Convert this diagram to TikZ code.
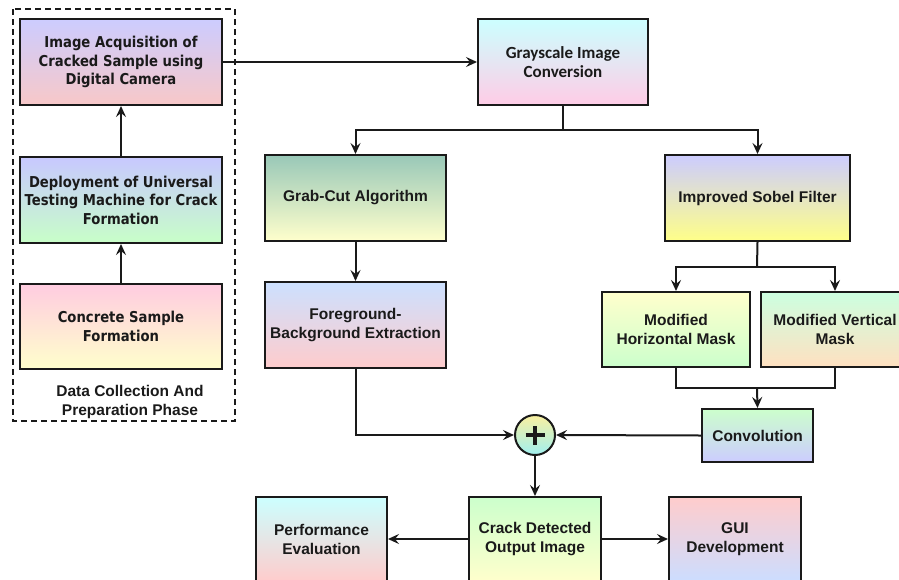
\documentclass[tikz,border=0pt]{standalone}
\usepackage{fontspec}
\setmainfont{Liberation Sans}
\newfontfamily\dvfont[FakeStretch=0.88]{DejaVu Sans}
\newfontfamily\carlfont{Carlito}
\usetikzlibrary{arrows.meta}
\definecolor{ink}{HTML}{1A1A1A}
\tikzset{
  box/.style={draw=ink, line width=2pt, rectangle, inner sep=2pt, align=center,
    text=ink, font=\fontsize{15.5}{19}\selectfont\bfseries},
  leftbox/.style={box, font=\dvfont\fontsize{15}{18.5}\selectfont\bfseries},
  conn/.style={draw=ink, line width=2pt},
  arr/.style={conn, -{Stealth[length=11pt,width=10pt,inset=4pt]}},
}
\begin{document}
\begin{tikzpicture}[x=1pt,y=-1pt]
\useasboundingbox (0,0) rectangle (899,579);
% left phase
\draw[ink, line width=2pt, dash pattern=on 6pt off 4pt] (13,9) rectangle (235,421);
\node[leftbox, minimum width=202pt, minimum height=86pt, top color={rgb,255:red,204;green,204;blue,255}, bottom color={rgb,255:red,248;green,200;blue,200}] (acq) at (121,62) {Image Acquisition of\\Cracked Sample using\\Digital Camera};
\node[leftbox, minimum width=202pt, minimum height=86pt, top color={rgb,255:red,200;green,200;blue,255}, bottom color={rgb,255:red,200;green,255;blue,200}] (dep) at (121,200) {Deployment of Universal\\Testing Machine for Crack\\Formation};
\node[leftbox, minimum width=202pt, minimum height=85pt, top color={rgb,255:red,255;green,204;blue,224}, bottom color={rgb,255:red,255;green,255;blue,204}] (conc) at (121,326.5) {Concrete Sample\\Formation};
\node[align=center, text=ink, font=\fontsize{15.5}{19}\selectfont\bfseries] (phase) at (130,402) {Data Collection And\\Preparation Phase};
% right part
\node[box, minimum width=170pt, minimum height=86pt, top color={rgb,255:red,204;green,255;blue,255}, bottom color={rgb,255:red,255;green,204;blue,230}, font=\carlfont\fontsize{17}{19}\selectfont\bfseries] (gray) at (563,62) {Grayscale Image\\Conversion};
\node[box, minimum width=181pt, minimum height=86pt, top color={rgb,255:red,153;green,200;blue,184}, bottom color={rgb,255:red,255;green,255;blue,204}] (grab) at (355.5,198) {Grab-Cut Algorithm};
\node[box, minimum width=185pt, minimum height=86pt, top color={rgb,255:red,204;green,204;blue,255}, bottom color={rgb,255:red,255;green,255;blue,136}] (sobel) at (757.5,198) {Improved Sobel Filter};
\node[box, minimum width=181pt, minimum height=86pt, top color={rgb,255:red,204;green,224;blue,255}, bottom color={rgb,255:red,255;green,204;blue,204}] (fg) at (355.5,325) {Foreground-\\Background Extraction};
\node[box, minimum width=148pt, minimum height=75pt, top color={rgb,255:red,255;green,255;blue,204}, bottom color={rgb,255:red,204;green,255;blue,204}] (modh) at (676,329.5) {Modified\\Horizontal Mask};
\node[box, minimum width=148pt, minimum height=75pt, top color={rgb,255:red,204;green,255;blue,224}, bottom color={rgb,255:red,255;green,224;blue,192}] (modv) at (835,329.5) {Modified Vertical\\Mask};
\node[box, minimum width=111pt, minimum height=53pt, top color={rgb,255:red,204;green,255;blue,204}, bottom color={rgb,255:red,204;green,204;blue,255}] (conv) at (757.5,435.5) {Convolution};
\node[draw=ink, line width=2pt, circle, minimum size=40pt, inner sep=0pt, top color={rgb,255:red,250;green,240;blue,160}, bottom color={rgb,255:red,160;green,240;blue,240}] (plus) at (535,435) {};
\draw[ink, line width=4pt] ([xshift=-9.5pt]plus.center) -- ([xshift=9.5pt]plus.center);
\draw[ink, line width=4pt] ([yshift=-9.5pt]plus.center) -- ([yshift=9.5pt]plus.center);
\node[box, minimum width=132pt, minimum height=84pt, top color={rgb,255:red,204;green,255;blue,204}, bottom color={rgb,255:red,255;green,255;blue,204}] (crack) at (535,539) {Crack Detected\\Output Image};
\node[box, minimum width=131pt, minimum height=84pt, top color={rgb,255:red,204;green,255;blue,255}, bottom color={rgb,255:red,255;green,204;blue,204}] (perf) at (321.5,539) {Performance\\Evaluation};
\node[box, minimum width=132pt, minimum height=84pt, top color={rgb,255:red,255;green,204;blue,204}, bottom color={rgb,255:red,204;green,221;blue,255}] (gui) at (735,539) {GUI\\Development};
% junctions
\coordinate (j1) at (563,130);
\coordinate (j2) at (757,267);
\coordinate (j3) at (757,388);
% connectors
\draw[arr] (conc) -- (dep);
\draw[arr] (dep) -- (acq);
\draw[arr] (acq.east) -- (gray.west);
\draw[conn] (gray.south) -- (j1);
\draw[arr] (j1) -| (grab.north);
\draw[arr] (j1) -| (sobel.north);
\draw[arr] (grab) -- (fg);
\draw[conn] (sobel.south) -- (j2);
\draw[arr] (j2) -| (modh.north);
\draw[arr] (j2) -| (modv.north);
\draw[conn] (modh.south) |- (j3) -| (modv.south);
\draw[arr] (j3) -- (conv.north);
\draw[arr] (fg.south) |- (plus.west);
\draw[arr] (conv.west) -- (plus.east);
\draw[arr] (plus.south) -- (crack.north);
\draw[arr] (crack.west) -- (perf.east);
\draw[arr] (crack.east) -- (gui.west);
\end{tikzpicture}
\end{document}
